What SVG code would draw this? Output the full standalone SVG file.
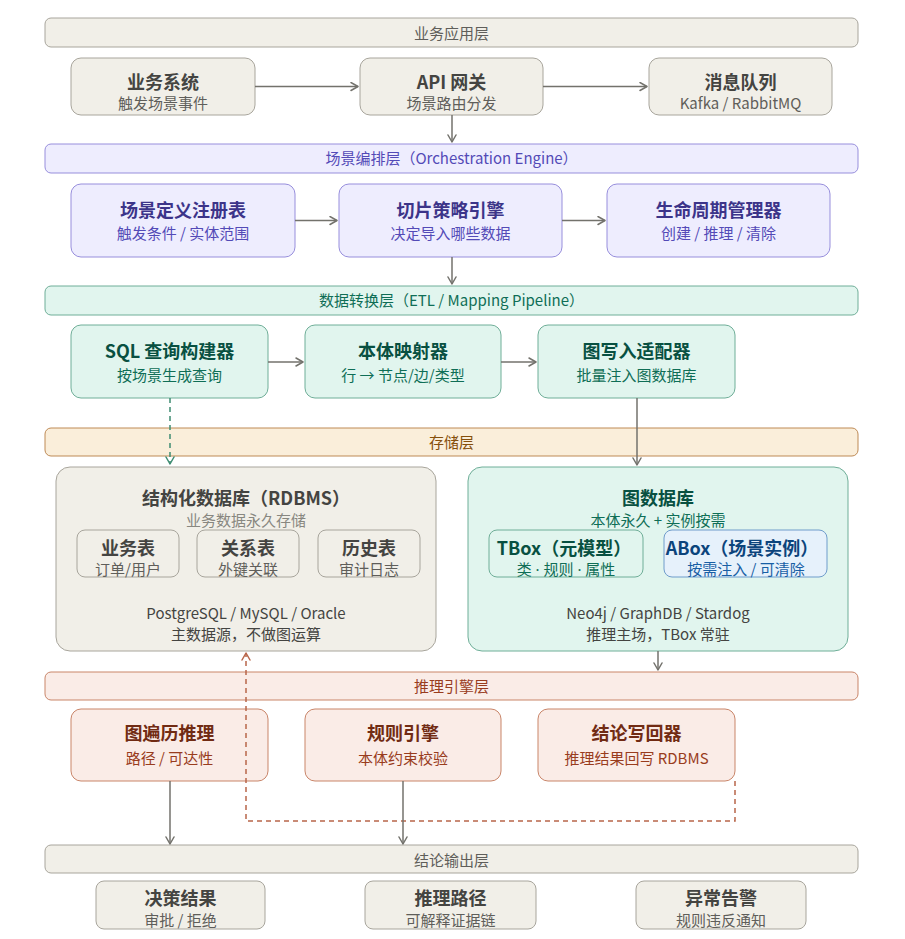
<svg xmlns="http://www.w3.org/2000/svg" width="905" height="939" viewBox="0 0 905 939">
<defs>
<style>
text{font-family:"Noto Sans CJK SC","Noto Sans",sans-serif;text-anchor:middle}
.t{font-size:18px;font-weight:700}
.s{font-size:15px}
.l{font-size:15px}
.lat{font-family:"Noto Sans","Noto Sans CJK SC",sans-serif}
.gray rect{fill:#F1EFE8;stroke:#A8A59C;stroke-width:1}
.gray .t{fill:#444441}.gray .s,.gray .l{fill:#5F5E5A}
.pur rect{fill:#EEEDFE;stroke:#978EDC;stroke-width:1}
.pur .t{fill:#3C3489}.pur .s,.pur .l{fill:#534AB7}
.teal rect{fill:#E1F5EE;stroke:#6FAE98;stroke-width:1}
.teal .t{fill:#085041}.teal .s,.teal .l{fill:#0F6E56}
.amb rect{fill:#FAEEDA;stroke:#BE8A55;stroke-width:1}
.amb .l{fill:#854F0B}
.cor rect{fill:#FAECE7;stroke:#C98569;stroke-width:1}
.cor .t{fill:#712B13}.cor .s,.cor .l{fill:#993C1D}
.blue rect{fill:#E6F1FB;stroke:#6F9CCB;stroke-width:1}
.blue .t{fill:#0C447C}.blue .s{fill:#185FA5}
.arr{fill:none;stroke:#73726C;stroke-width:1.5}
</style>
<marker id="ag" viewBox="0 0 10 10" refX="8" refY="5" markerWidth="10" markerHeight="10" markerUnits="userSpaceOnUse" orient="auto-start-reverse"><path d="M1 1L8 5L1 9" fill="none" stroke="#73726C" stroke-width="1.5" stroke-linecap="round" stroke-linejoin="round"/></marker>
<marker id="at" viewBox="0 0 10 10" refX="8" refY="5" markerWidth="10" markerHeight="10" markerUnits="userSpaceOnUse" orient="auto-start-reverse"><path d="M1 1L8 5L1 9" fill="none" stroke="#3E8C72" stroke-width="1.5" stroke-linecap="round" stroke-linejoin="round"/></marker>
<marker id="ac" viewBox="0 0 10 10" refX="8" refY="5" markerWidth="10" markerHeight="10" markerUnits="userSpaceOnUse" orient="auto-start-reverse"><path d="M1 1L8 5L1 9" fill="none" stroke="#B8664A" stroke-width="1.5" stroke-linecap="round" stroke-linejoin="round"/></marker>
</defs>
<rect width="905" height="939" fill="#FFFFFF"/>

<!-- layer bars -->
<g id="layer-app" class="gray"><rect x="45" y="18" width="813" height="29" rx="6"/><text class="l" x="451.5" y="38.5">业务应用层</text></g>
<g id="layer-orch" class="pur"><rect x="45" y="144" width="813" height="29" rx="6"/><text class="l" x="451.5" y="164">场景编排层（Orchestration Engine）</text></g>
<g id="layer-etl" class="teal"><rect x="45" y="286" width="813" height="29" rx="6"/><text class="l" x="451.5" y="306">数据转换层（ETL / Mapping Pipeline）</text></g>
<g id="layer-store" class="amb"><rect x="45" y="428" width="813" height="28" rx="6"/><text class="l" x="451.5" y="447.5">存储层</text></g>
<g id="layer-infer" class="cor"><rect x="45" y="672" width="813" height="28" rx="6"/><text class="l" x="451.5" y="691.5">推理引擎层</text></g>
<g id="layer-out" class="gray"><rect x="45" y="845" width="813" height="28" rx="6"/><text class="l" x="451.5" y="865.5">结论输出层</text></g>

<!-- row 1 -->
<g id="biz-system" class="gray"><rect x="71" y="58" width="184" height="57" rx="10"/><text class="t" x="163" y="89">业务系统</text><text class="s" x="163" y="108.5">触发场景事件</text></g>
<g id="api-gateway" class="gray"><rect x="360" y="58" width="183" height="57" rx="10"/><text class="t" x="451.5" y="89">API 网关</text><text class="s" x="451.5" y="108.5">场景路由分发</text></g>
<g id="mq" class="gray"><rect x="649" y="58" width="183" height="57" rx="10"/><text class="t" x="740.5" y="89">消息队列</text><text class="s" x="740.5" y="108.5">Kafka / RabbitMQ</text></g>

<!-- row 2 -->
<g id="scene-registry" class="pur"><rect x="71" y="184" width="224" height="73" rx="10"/><text class="t" x="183" y="216.5">场景定义注册表</text><text class="s" x="183" y="238.5">触发条件 / 实体范围</text></g>
<g id="slice-engine" class="pur"><rect x="339" y="184" width="223" height="73" rx="10"/><text class="t" x="450.5" y="216.5">切片策略引擎</text><text class="s" x="450.5" y="238.5">决定导入哪些数据</text></g>
<g id="lifecycle" class="pur"><rect x="607" y="184" width="223" height="73" rx="10"/><text class="t" x="718.5" y="216.5">生命周期管理器</text><text class="s" x="718.5" y="238.5">创建 / 推理 / 清除</text></g>

<!-- row 3 -->
<g id="sql-builder" class="teal"><rect x="71" y="325" width="197" height="73" rx="10"/><text class="t" x="169.5" y="357.5">SQL 查询构建器</text><text class="s" x="169.5" y="380.5">按场景生成查询</text></g>
<g id="onto-mapper" class="teal"><rect x="305" y="325" width="196" height="73" rx="10"/><text class="t" x="403" y="357.5">本体映射器</text><text class="s" x="403" y="380.5">行 → 节点/边/类型</text></g>
<g id="graph-writer" class="teal"><rect x="538" y="325" width="197" height="73" rx="10"/><text class="t" x="636.5" y="357.5">图写入适配器</text><text class="s" x="636.5" y="380.5">批量注入图数据库</text></g>

<!-- storage -->
<g id="rdbms" class="gray">
<rect x="56" y="467" width="380" height="184" rx="14"/>
<text class="t" x="246" y="505">结构化数据库（RDBMS）</text>
<text class="s" x="246" y="525.5" style="fill:#888780">业务数据永久存储</text>
<rect x="77" y="530" width="102" height="47" rx="8"/><text class="t" x="128" y="555">业务表</text><text class="s" x="128" y="575">订单/用户</text>
<rect x="197" y="530" width="102" height="47" rx="8"/><text class="t" x="248" y="555">关系表</text><text class="s" x="248" y="575">外键关联</text>
<rect x="318" y="530" width="102" height="47" rx="8"/><text class="t" x="369" y="555">历史表</text><text class="s" x="369" y="575">审计日志</text>
<text class="s" x="246" y="619" style="fill:#444441">PostgreSQL / MySQL / Oracle</text>
<text class="s" x="246" y="640" style="fill:#444441">主数据源，不做图运算</text>
</g>
<g id="graphdb" class="teal">
<rect x="468" y="467" width="380" height="184" rx="14"/>
<text class="t" x="658" y="504.5">图数据库</text>
<text class="s" x="658" y="525.5">本体永久 + 实例按需</text>
<rect x="489" y="530" width="154" height="47" rx="8"/><text class="t" x="564" y="555">TBox（元模型）</text><text class="s lat" x="566" y="575">类 · 规则 · 属性</text>
</g>
<g id="abox" class="blue"><rect x="664" y="530" width="163" height="47" rx="8"/><text class="t" x="742" y="555">ABox（场景实例）</text><text class="s" x="746" y="575">按需注入 / 可清除</text></g>
<g id="graphdb-foot"><text class="s" x="658" y="619" fill="#444441">Neo4j / GraphDB / Stardog</text><text class="s" x="658" y="640" fill="#444441">推理主场，TBox 常驻</text></g>

<!-- row 5 -->
<g id="graph-traverse" class="cor"><rect x="71" y="709" width="197" height="72" rx="10"/><text class="t" x="169.5" y="740">图遍历推理</text><text class="s" x="169.5" y="764">路径 / 可达性</text></g>
<g id="rule-engine" class="cor"><rect x="305" y="709" width="196" height="72" rx="10"/><text class="t" x="403" y="740">规则引擎</text><text class="s" x="403" y="764">本体约束校验</text></g>
<g id="writeback" class="cor"><rect x="538" y="709" width="197" height="72" rx="10"/><text class="t" x="636.5" y="740">结论写回器</text><text class="s" x="636.5" y="764">推理结果回写 RDBMS</text></g>

<!-- row 6 -->
<g id="decision" class="gray"><rect x="96" y="881" width="169" height="48" rx="8"/><text class="t" x="180.5" y="905">决策结果</text><text class="s" x="180.5" y="925.5">审批 / 拒绝</text></g>
<g id="infer-path" class="gray"><rect x="365" y="881" width="171" height="48" rx="8"/><text class="t" x="450.5" y="905">推理路径</text><text class="s" x="450.5" y="925.5">可解释证据链</text></g>
<g id="alert" class="gray"><rect x="636" y="881" width="170" height="48" rx="8"/><text class="t" x="721" y="905">异常告警</text><text class="s" x="721" y="925.5">规则违反通知</text></g>

<!-- connectors -->
<g id="connectors">
<path class="arr" d="M255 86.5H358" marker-end="url(#ag)"/>
<path class="arr" d="M543 86.5H647" marker-end="url(#ag)"/>
<path class="arr" d="M452 115V142" marker-end="url(#ag)"/>
<path class="arr" d="M295 220.5H337" marker-end="url(#ag)"/>
<path class="arr" d="M562 220.5H605" marker-end="url(#ag)"/>
<path class="arr" d="M452 257V284" marker-end="url(#ag)"/>
<path class="arr" d="M268 362H303" marker-end="url(#ag)"/>
<path class="arr" d="M501 362H536" marker-end="url(#ag)"/>
<path d="M170 398V464" fill="none" stroke="#3E8C72" stroke-width="1.5" stroke-dasharray="5 4" marker-end="url(#at)"/>
<path class="arr" d="M637 398V465" marker-end="url(#ag)"/>
<path class="arr" d="M658 651V670" marker-end="url(#ag)"/>
<path d="M735 781V821H246V653" fill="none" stroke="#B8664A" stroke-width="1.5" stroke-dasharray="5 4" marker-end="url(#ac)"/>
<path class="arr" d="M170 781V844" marker-end="url(#ag)"/>
<path class="arr" d="M403 781V844" marker-end="url(#ag)"/>
</g>
</svg>
